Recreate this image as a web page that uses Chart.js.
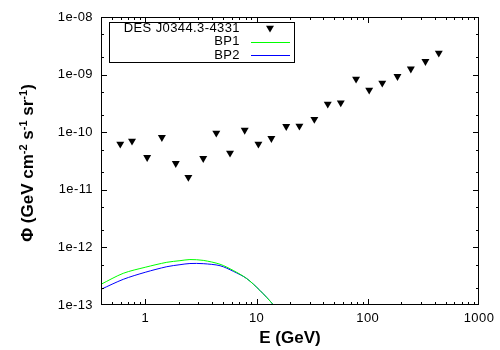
<!DOCTYPE html>
<html><head><meta charset="utf-8">
<script src="https://cdn.jsdelivr.net/npm/chart.js@4/dist/chart.umd.min.js"></script>
<style>html,body{margin:0;padding:0;background:#fff}</style>
</head><body>
<canvas id="c" width="500" height="350" style="display:block;width:500px;height:350px"></canvas>
<script>
// ---- data ----
const seriesLabels = ['DES J0344.3-4331', 'BP1', 'BP2'];
const pointEnergy = [0.596, 0.76, 1.04, 1.41, 1.88, 2.44, 3.32, 4.35, 5.78, 7.83, 10.4, 13.6, 18.5, 24.3, 33.1, 43.7, 57.2, 78.5, 103, 135, 185, 244, 330, 435];
const pointFlux = [6.24e-11, 7.03e-11, 3.66e-11, 8.15e-11, 2.88e-11, 1.65e-11, 3.52e-11, 9.68e-11, 4.35e-11, 1.09e-10, 6.24e-11, 7.83e-11, 1.26e-10, 1.28e-10, 1.68e-10, 3.09e-10, 3.25e-10, 8.39e-10, 5.41e-10, 7.15e-10, 9.33e-10, 1.26e-9, 1.70e-9, 2.37e-9];
const curveEnergy = [0.4, 0.634, 1.0, 1.56, 2.05, 2.52, 3.32, 4.70, 6.18, 8.16, 10.7, 14.2, 17];
const bp1Flux = [2.29e-13, 3.55e-13, 4.52e-13, 5.51e-13, 5.88e-13, 6.15e-13, 5.95e-13, 5.10e-13, 3.98e-13, 2.88e-13, 1.80e-13, 1.0e-13, 6.0e-14];
const bp2Flux = [1.87e-13, 2.79e-13, 3.70e-13, 4.62e-13, 5.01e-13, 5.25e-13, 5.22e-13, 4.81e-13, 3.85e-13, 2.88e-13, 1.80e-13, 1.0e-13, 6.0e-14];
const xTickValues = [1, 10, 100, 1000];
const xTickLabels = ['1', '10', '100', '1000'];
const yTickValues = [1e-13, 1e-12, 1e-11, 1e-10, 1e-9, 1e-8];
const yTickLabels = ['1e-13', '1e-12', '1e-11', '1e-10', '1e-09', '1e-08'];
const xMinorMult = [2, 3, 4, 5, 6, 7, 8, 9];
const yMinorMult = [2, 5];

const FONT = '"Liberation Sans", Arial, sans-serif';
const SPACING = '0.4px';

function toXY(xs, ys) { return xs.map((x, i) => ({ x: x, y: ys[i] })); }

const framePlugin = {
  id: 'frame',
  beforeDraw(chart) {
    const ctx = chart.ctx;
    ctx.save();
    ctx.fillStyle = '#fff';
    ctx.fillRect(0, 0, chart.width, chart.height);
    ctx.restore();
    ctx.letterSpacing = SPACING;
  },
  afterDraw(chart) {
    const ctx = chart.ctx;
    const a = chart.chartArea;
    const xs = chart.scales.x, ys = chart.scales.y;
    ctx.save();
    ctx.letterSpacing = '0px';
    ctx.strokeStyle = '#000';
    ctx.lineWidth = 1;
    // border
    ctx.strokeRect(a.left + 0.5, a.top + 0.5, a.right - a.left - 1, a.bottom - a.top - 1);
    // ticks
    ctx.beginPath();
    function xt(v, len) {
      const px = Math.round(xs.getPixelForValue(v)) + 0.5;
      if (px <= a.left + 1 || px >= a.right - 1) return;
      ctx.moveTo(px, a.bottom); ctx.lineTo(px, a.bottom - len);
      ctx.moveTo(px, a.top); ctx.lineTo(px, a.top + len);
    }
    function yt(v, len) {
      const py = Math.round(ys.getPixelForValue(v)) + 0.5;
      if (py <= a.top + 1 || py >= a.bottom - 1) return;
      ctx.moveTo(a.left, py); ctx.lineTo(a.left + len, py);
      ctx.moveTo(a.right, py); ctx.lineTo(a.right - len, py);
    }
    const xDecades = [0.1, 1, 10, 100];
    xDecades.forEach(d => xMinorMult.forEach(m => { const v = d * m; if (v >= xs.min && v <= xs.max) xt(v, 3); }));
    xTickValues.forEach(v => xt(v, 6));
    const yDecades = [1e-13, 1e-12, 1e-11, 1e-10, 1e-9];
    yDecades.forEach(d => yMinorMult.forEach(m => yt(d * m, 3)));
    yTickValues.forEach(v => yt(v, 6));
    ctx.stroke();

    // legend
    const ds = chart.data.datasets;
    ctx.strokeRect(109.5, 22.5, 185, 40);
    ctx.font = '13px ' + FONT;
    ctx.letterSpacing = SPACING;
    ctx.textAlign = 'right';
    ctx.textBaseline = 'middle';
    ctx.fillStyle = '#000';
    const rows = [28, 41.5, 55];
    ds.forEach((d, i) => {
      ctx.fillText(d.label, 240, rows[i]);
      if (i === 0) {
        const r = 4.6, cx = 270, cy = rows[i];
        ctx.beginPath();
        ctx.moveTo(cx, cy + r);
        ctx.lineTo(cx - r * 0.866, cy - r / 2);
        ctx.lineTo(cx + r * 0.866, cy - r / 2);
        ctx.closePath();
        ctx.fillStyle = d.pointBackgroundColor;
        ctx.fill();
        ctx.fillStyle = '#000';
      } else {
        ctx.beginPath();
        ctx.strokeStyle = d.borderColor;
        const ly = Math.round(rows[i]) + 0.5;
        ctx.moveTo(251, ly); ctx.lineTo(290, ly);
        ctx.stroke();
      }
    });

    // axis titles
    ctx.letterSpacing = '0px';
    ctx.fillStyle = '#000';
    ctx.textBaseline = 'middle';
    ctx.textAlign = 'center';
    ctx.font = 'bold 17px ' + FONT;
    ctx.fillText('E (GeV)', (a.left + a.right) / 2, 338);

    const segs = [['\u03A6 (GeV cm', 0], ['-2', 1], [' s', 0], ['-1', 1], [' sr', 0], ['-1', 1], [')', 0]];
    const mainF = 'bold 17px ' + FONT, supF = 'bold 11px ' + FONT;
    let W = 0;
    segs.forEach(s => { ctx.font = s[1] ? supF : mainF; W += ctx.measureText(s[0]).width; });
    ctx.translate(33, (a.top + a.bottom) / 2 + 2);
    ctx.rotate(-Math.PI / 2);
    ctx.textAlign = 'left';
    ctx.textBaseline = 'alphabetic';
    let x = -W / 2;
    segs.forEach(s => {
      ctx.font = s[1] ? supF : mainF;
      ctx.fillText(s[0], x, s[1] ? -6 : 0);
      x += ctx.measureText(s[0]).width;
    });
    ctx.restore();
  }
};

new Chart(document.getElementById('c'), {
  type: 'scatter',
  data: {
    datasets: [
      {
        label: seriesLabels[0],
        data: toXY(pointEnergy, pointFlux),
        showLine: false,
        pointStyle: 'triangle',
        rotation: 180,
        pointRadius: 4.6,
        pointBackgroundColor: '#000',
        pointBorderColor: '#000',
        pointBorderWidth: 0
      },
      {
        label: seriesLabels[1],
        data: toXY(curveEnergy, bp1Flux),
        showLine: true,
        borderColor: '#00ff00',
        backgroundColor: '#00ff00',
        borderWidth: 1,
        pointRadius: 0,
        tension: 0.3
      },
      {
        label: seriesLabels[2],
        data: toXY(curveEnergy, bp2Flux),
        showLine: true,
        borderColor: '#0000ff',
        backgroundColor: '#0000ff',
        borderWidth: 1,
        pointRadius: 0,
        tension: 0.3
      }
    ]
  },
  options: {
    responsive: false,
    devicePixelRatio: 1,
    animation: false,
    events: [],
    layout: { padding: { top: 17, right: 21, left: 0, bottom: 0 } },
    plugins: { legend: { display: false }, tooltip: { enabled: false } },
    scales: {
      x: {
        type: 'logarithmic',
        position: 'bottom',
        min: 0.4,
        max: 1000,
        afterBuildTicks: s => { s.ticks = xTickValues.map(v => ({ value: v })); },
        afterFit: s => { s.height = 45; },
        ticks: {
          autoSkip: false, maxRotation: 0, minRotation: 0,
          padding: 6,
          color: '#000',
          font: { family: FONT, size: 13 },
          callback: (v, i) => xTickLabels[i]
        },
        grid: { display: false, drawTicks: false },
        border: { display: false }
      },
      y: {
        type: 'logarithmic',
        position: 'left',
        min: 1e-13,
        max: 1e-8,
        afterBuildTicks: s => { s.ticks = yTickValues.map(v => ({ value: v })); },
        afterFit: s => { s.width = 101; },
        ticks: {
          autoSkip: false,
          padding: 8,
          color: '#000',
          font: { family: FONT, size: 13 },
          callback: (v, i) => yTickLabels[i]
        },
        grid: { display: false, drawTicks: false },
        border: { display: false }
      }
    }
  },
  plugins: [framePlugin]
});
</script>
</body></html>
